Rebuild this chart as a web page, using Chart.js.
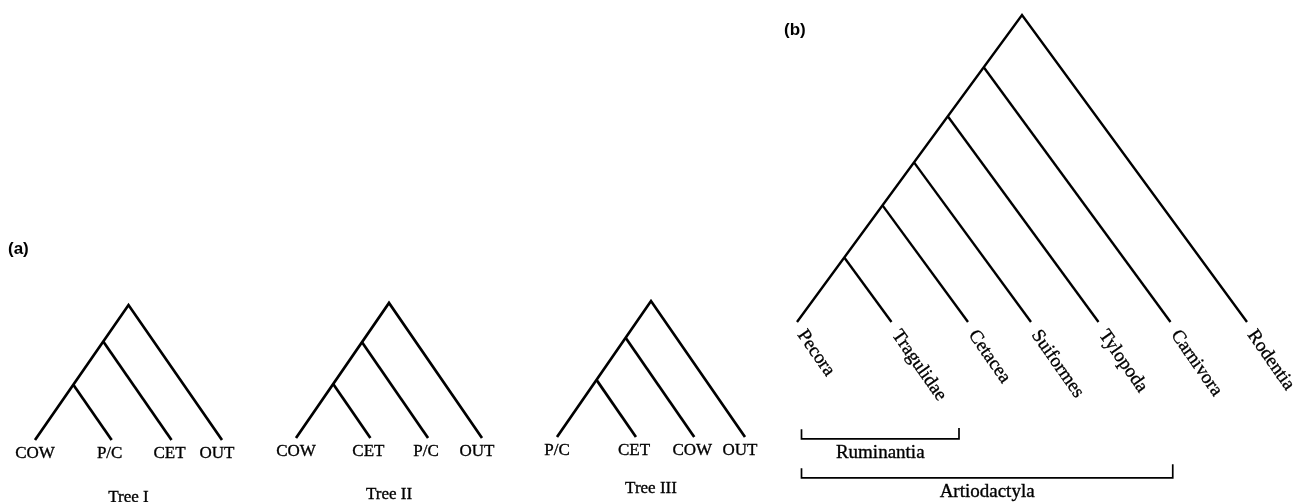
<!DOCTYPE html>
<html>
<head>
<meta charset="utf-8">
<script src="https://cdn.jsdelivr.net/npm/chart.js@4.4.1/dist/chart.umd.min.js"></script>
<style>
  html, body { margin: 0; padding: 0; background: #fff; }
  #stage { position: relative; width: 1314px; height: 502px; overflow: hidden; }
  #stage canvas { position: absolute; left: 0; top: 0; }
  .panel { position: absolute; font: bold 17px 'Liberation Sans', Arial, sans-serif; color: #000; line-height: 20px; }
</style>
</head>
<body>
<div id="stage">
  <canvas id="treeI" width="1314" height="502"></canvas>
  <canvas id="treeII" width="1314" height="502"></canvas>
  <canvas id="treeIII" width="1314" height="502"></canvas>
  <canvas id="treeB" width="1314" height="502"></canvas>
  <div class="panel" style="left:8px;top:239px">(a)</div>
  <div class="panel" style="left:784px;top:20px">(b)</div>
</div>
<script>
(function () {
    'use strict';

    // (a) three competing topologies. Leaves left to right, internal node
    // heights from the lowest split up to the root (root = 1).
    var treeILeaves = ['COW', 'P/C', 'CET', 'OUT'];
    var treeINodes = [0.41, 0.73, 1];
    var treeIILeaves = ['COW', 'CET', 'P/C', 'OUT'];
    var treeIINodes = [0.40, 0.71, 1];
    var treeIIILeaves = ['P/C', 'CET', 'COW', 'OUT'];
    var treeIIINodes = [0.42, 0.73, 1];
    var treeTitles = ['Tree I', 'Tree II', 'Tree III'];

    // (b) ordered cladogram of the artiodactyl groups plus outgroups
    var mammalLeaves = ['Pecora', 'Tragulidae', 'Cetacea', 'Suiformes', 'Tylopoda', 'Carnivora', 'Rodentia'];
    var mammalNodes = [0.21, 0.38, 0.52, 0.67, 0.83, 1];

    // brackets under (b), in leaf-axis units
    var groupNames = ['Ruminantia', 'Artiodactyla'];
    var groupStart = [0.02, 0.02];
    var groupEnd = [0.72, 1.67];

    var serif = "'Liberation Serif', 'Times New Roman', serif";

    function segment(points, width) {
        return {
            data: points,
            showLine: true,
            borderColor: '#000',
            borderWidth: width,
            borderJoinStyle: 'miter',
            borderCapStyle: 'butt',
            pointRadius: 0,
            fill: false,
            clip: false
        };
    }

    // triangular cladogram: every leaf sits on y = 0, the left spine runs
    // up to the root and each split drops a branch parallel to the right edge
    function treeDatasets(nodes, width) {
        var root = nodes[nodes.length - 1];
        var sets = [segment([{ x: 0, y: 0 }, { x: root, y: root }, { x: 2 * root, y: 0 }], width)];
        nodes.slice(0, -1).forEach(function (h) {
            sets.push(segment([{ x: h, y: h }, { x: 2 * h, y: 0 }], width));
        });
        return sets;
    }

    function leafX(nodes) {
        return [0].concat(nodes.map(function (h) { return 2 * h; }));
    }

    // scanned print looks heavier than a plain fill, so ink it twice
    function inkText(ctx, text, x, y) {
        ctx.fillText(text, x, y);
        ctx.strokeText(text, x, y);
    }

    var treeText = {
        id: 'treeText',
        afterDatasetsDraw: function (chart, args, opts) {
            var ctx = chart.ctx;
            var xs = chart.scales.x;
            var ys = chart.scales.y;
            var base = ys.getPixelForValue(0);
            ctx.save();
            ctx.fillStyle = '#000';
            ctx.strokeStyle = '#000';
            ctx.lineWidth = 0.35;
            ctx.font = opts.font;
            opts.leaves.forEach(function (name, i) {
                var px = xs.getPixelForValue(opts.positions[i]);
                if (opts.angle) {
                    ctx.save();
                    ctx.translate(px + 4, base + 10);
                    ctx.rotate(opts.angle * Math.PI / 180);
                    ctx.textAlign = 'left';
                    ctx.textBaseline = 'middle';
                    inkText(ctx, name, 0, 0);
                    ctx.restore();
                } else {
                    ctx.textAlign = 'center';
                    ctx.textBaseline = 'middle';
                    inkText(ctx, name, px - (opts.nudge ? opts.nudge[i] : 0), base + 14);
                }
            });
            if (opts.title) {
                ctx.font = opts.titleFont;
                ctx.textAlign = 'center';
                ctx.textBaseline = 'middle';
                inkText(ctx, opts.title, xs.getPixelForValue(opts.rootX), base + opts.titleGap);
            }
            (opts.groups || []).forEach(function (g) {
                ctx.font = opts.font;
                ctx.textAlign = 'center';
                ctx.textBaseline = 'middle';
                inkText(ctx, g.name, xs.getPixelForValue((g.from + g.to) / 2), ys.getPixelForValue(g.y) + 14);
            });
            ctx.restore();
        }
    };

    function baseOptions(padding, xMax) {
        return {
            responsive: false,
            animation: false,
            events: [],
            layout: { padding: padding },
            scales: {
                x: { type: 'linear', min: 0, max: xMax, display: false },
                y: { type: 'linear', min: 0, max: 1, display: false }
            },
            plugins: {
                legend: { display: false },
                tooltip: { enabled: false }
            }
        };
    }

    function smallTree(canvasId, leaves, nodes, title, padding, titleGap) {
        var opts = baseOptions(padding, 2 * nodes[nodes.length - 1]);
        opts.plugins.treeText = {
            leaves: leaves,
            positions: leafX(nodes),
            nudge: [0, 2, 2, 5],
            font: '17px ' + serif,
            title: title,
            titleFont: '17px ' + serif,
            titleGap: titleGap,
            rootX: nodes[nodes.length - 1]
        };
        return new Chart(document.getElementById(canvasId), {
            type: 'scatter',
            data: { datasets: treeDatasets(nodes, 2.7) },
            options: opts,
            plugins: [treeText]
        });
    }

    smallTree('treeI', treeILeaves, treeINodes, treeTitles[0], { left: 35, right: 1092, top: 305, bottom: 62 }, 58);
    smallTree('treeII', treeIILeaves, treeIINodes, treeTitles[1], { left: 296, right: 832, top: 303, bottom: 64 }, 57);
    smallTree('treeIII', treeIIILeaves, treeIIINodes, treeTitles[2], { left: 557, right: 569, top: 301, bottom: 65 }, 52);

    // (b)
    var barY = [-0.381, -0.508];
    var groups = groupNames.map(function (name, i) {
        return { name: name, from: groupStart[i], to: groupEnd[i], y: barY[i] };
    });
    var bSets = treeDatasets(mammalNodes, 2.4);
    groups.forEach(function (g, i) {
        var lift = i === 0 ? [0.032, 0.036] : [0.032, 0.045];
        bSets.push(segment([
            { x: g.from, y: g.y + lift[0] },
            { x: g.from, y: g.y },
            { x: g.to, y: g.y },
            { x: g.to, y: g.y + lift[1] }
        ], 1.7));
    });

    var bOpts = baseOptions({ left: 797, right: 67, top: 15, bottom: 180 }, 2 * mammalNodes[mammalNodes.length - 1]);
    bOpts.plugins.treeText = {
        leaves: mammalLeaves,
        positions: leafX(mammalNodes),
        angle: 55,
        font: '19px ' + serif,
        groups: groups
    };
    new Chart(document.getElementById('treeB'), {
        type: 'scatter',
        data: { datasets: bSets },
        options: bOpts,
        plugins: [treeText]
    });
}());
</script>
</body>
</html>
